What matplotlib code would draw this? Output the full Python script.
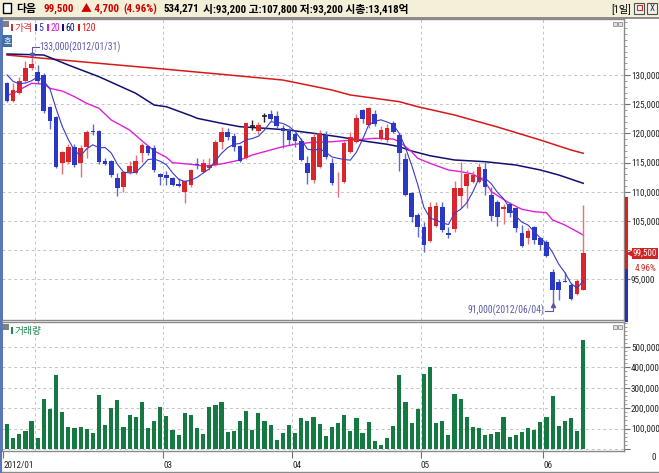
import numpy as np
import pandas as pd
import matplotlib
matplotlib.use('Agg')
import matplotlib.pyplot as plt
import matplotlib.transforms as mtransforms
from matplotlib import font_manager
from matplotlib.patches import Rectangle
from matplotlib.ticker import MultipleLocator, FuncFormatter

# narrow latin face if one is installed, Korean glyphs fall back to Noto CJK
installed = {f.name for f in font_manager.fontManager.ttflist}
narrow = [n for n in ['Roboto Condensed', 'Liberation Sans Narrow', 'Open Sans Condensed',
                      'DejaVu Sans Condensed'] if n in installed]
plt.rcParams['font.family'] = narrow[:1] + ['Noto Sans CJK KR', 'DejaVu Sans']
FS = 6.6 if narrow else 6.0

# daily candles, 2012/01/25 .. 2012/06/12
opens = [128600, 125600, 126900, 129000, 131150, 130550, 130000, 124450, 122850, 114900,
         115050, 117750, 115000, 117750, 120450, 120400, 115300, 115350, 112400, 110900,
         113350, 113300, 116600, 117850, 117550, 113050, 112900, 112300, 111300, 110050,
         111150, 114800, 113450, 114050, 114600, 118600, 120200, 119600, 117900, 115750,
         121300, 120400, 123000, 123250, 123050, 121000, 120450, 119850, 118750, 114900,
         112000, 114200, 119700, 115000, 111850, 111750, 116850, 118600, 124000, 121450,
         123300, 119050, 118850, 121850, 119700, 115600, 109750, 106050, 103900, 101650,
         104150, 107450, 103000, 103600, 109300, 111000, 111750, 111750, 113900, 109450,
         108300, 107050, 107900, 107150, 102900, 102050, 103900, 102050, 101350, 96350,
         94600, 94650, 94050, 92450, 93200]
highs = [128800, 128600, 129700, 132450, 133000, 131700, 130300, 124700, 123000, 117000,
         118200, 118150, 118000, 120600, 121600, 120600, 115800, 115500, 113150, 113600,
         115300, 116300, 118300, 118100, 118000, 113300, 113550, 112600, 112300, 112000,
         113900, 115750, 115550, 115750, 118800, 121050, 120850, 120100, 118100, 121850,
         122300, 121900, 123450, 124000, 123900, 121400, 120850, 120000, 119250, 116200,
         120100, 120600, 120400, 115750, 113350, 118700, 120200, 123300, 124200, 124600,
         124000, 121250, 121550, 122100, 120000, 116600, 110000, 106300, 104900, 108200,
         108300, 108300, 104050, 111900, 115050, 113750, 113600, 114900, 115050, 110900,
         108600, 107900, 108300, 107400, 104300, 103750, 104200, 102300, 101750, 96750,
         95000, 96300, 94300, 95000, 107800]
lows = [125400, 125400, 126700, 128800, 130800, 128500, 123500, 120750, 114000, 113050,
        114800, 114300, 112600, 115750, 119800, 114700, 114600, 112600, 109350, 110050,
        113100, 113000, 115150, 116300, 113450, 111150, 111150, 111050, 110800, 108150,
        110900, 113900, 113200, 113800, 114400, 117350, 118850, 117000, 115100, 115550,
        120600, 119850, 122000, 122100, 121000, 117450, 118000, 117750, 115200, 111300,
        111450, 114000, 115700, 111200, 109150, 111500, 116600, 118300, 121750, 120850,
        121300, 118800, 118600, 120000, 113550, 109200, 104800, 102300, 99750, 101400,
        103900, 103200, 102150, 103200, 107150, 107150, 111500, 111450, 109450, 105050,
        104150, 104500, 105750, 103200, 100600, 101050, 101000, 100050, 98800, 91000,
        91500, 94600, 91500, 92300, 93200]
closes = [125600, 127400, 129000, 131150, 131900, 129000, 123850, 122200, 114300, 116750,
          117600, 114600, 117550, 120300, 120200, 115050, 114800, 112900, 110700, 113350,
          114400, 115300, 118000, 116600, 113750, 112500, 112300, 111150, 111000, 111850,
          113750, 114600, 114900, 114600, 118600, 120300, 119400, 117750, 115350, 121750,
          121300, 121450, 123000, 122400, 121300, 120400, 118850, 118700, 115450, 113150,
          119400, 120000, 115900, 111450, 111900, 118400, 119450, 122700, 122450, 124300,
          121550, 120600, 120850, 120300, 116600, 109450, 105750, 104050, 100900, 107450,
          107550, 103450, 102600, 110700, 110700, 113050, 112900, 114300, 110750, 105900,
          105750, 107400, 106300, 103750, 100800, 103300, 101750, 100900, 99000, 93200,
          93200, 94600, 91650, 94800, 99500]
volumes = [122500, 55000, 73500, 90000, 139000, 55000, 245000, 198000, 364000, 181000,
           108000, 103000, 108000, 96000, 80000, 265000, 118000, 201000, 242000, 108000,
           167000, 157000, 230000, 105000, 139000, 206000, 162000, 95000, 69000, 176000,
           167000, 105000, 73500, 206000, 216000, 230000, 83000, 88000, 137000, 186000,
           95000, 176000, 137000, 118000, 44000, 78000, 118000, 78000, 152000, 137000,
           157000, 122000, 64000, 108000, 127000, 167000, 88000, 152000, 78000, 132000,
           39000, 20000, 54000, 113000, 363000, 230000, 127000, 196000, 368000, 402000,
           127000, 137000, 69000, 270000, 245000, 157000, 108000, 103000, 69000, 73500,
           83000, 157000, 59000, 69000, 83000, 103000, 93000, 132000, 157000, 260000,
           113000, 137000, 152000, 88000, 534271]
pre_closes = [133000, 131000, 130500, 130000]

# moving averages (bar number, value)
ma20_idx = [0, 1, 4, 6, 7, 9, 11, 13, 15, 17, 20, 22, 24, 26, 27, 30, 32, 34, 36, 38, 40,
            43, 45, 47, 50, 53, 58, 60, 63, 64, 66, 67, 69, 72, 74, 76, 78, 79, 82, 84,
            86, 88, 89, 91, 94]
ma20_val = [126500, 126870, 128580, 128460, 127720, 127260, 126290, 125150, 124300, 122300,
            120580, 118750, 117000, 115900, 114990, 114710, 114420, 114590, 114990, 115450,
            116300, 117160, 117730, 118140, 118500, 118580, 119000, 119160, 119040, 118580,
            116870, 115740, 114880, 113740, 113450, 113050, 111730, 110020, 108040, 107010,
            106600, 106430, 105180, 104320, 102610]
ma60_idx = [0, 6, 10, 15, 21, 24, 26, 30, 31, 35, 38, 42, 46, 48, 50, 54, 59, 62, 64, 66,
            69, 73, 78, 83, 87, 90, 94]
ma60_val = [133600, 133420, 131710, 129710, 126870, 124860, 124570, 123030, 122590, 121730,
            121150, 120880, 120580, 120290, 120020, 119440, 118580, 118140, 117730, 116990,
            116180, 115450, 115160, 114590, 113740, 112880, 111460]
ma120_idx = [0, 15, 26, 35, 45, 53, 56, 60, 64, 67, 73, 80, 87, 92, 94]
ma120_val = [133420, 132000, 130980, 130120, 129140, 127430, 126580, 126010, 125430, 124570,
             123150, 121100, 118870, 117160, 116600]

month_grid = [4.5, 25.5, 46.5, 67.5, 87.5]
month_ticks = [-0.6, 25.5, 46.5, 67.5, 87.5]
month_labels = ['2012/01', '03', '04', '05', '06']

UP, DOWN = '#D8262C', '#2B38C6'
UP_W, DOWN_W = '#E8707A', '#5E68D4'
GRID = '#C4C4C4'
W, H = 659, 473

def px_rect(x0, y0, x1, y1):
    return [x0 / W, 1 - y1 / H, (x1 - x0) / W, (y1 - y0) / H]

fig = plt.figure(figsize=(W / 100, H / 100), dpi=100)
fig.patch.set_facecolor('white')
ax = fig.add_axes(px_rect(2, 19, 624, 320))
axv = fig.add_axes(px_rect(2, 322, 624, 451))
ov = fig.add_axes([0, 0, 1, 1], zorder=10)
ov.set_xlim(0, W)
ov.set_ylim(H, 0)
ov.axis('off')
ov.patch.set_visible(False)

o = np.array(opens)
hi = np.array(highs)
lo = np.array(lows)
c = np.array(closes)
x = np.arange(len(c))
ma5 = pd.Series(pre_closes + closes).rolling(5).mean().values[len(pre_closes):]
cur = c[-1]

def comma(v, p=None):
    return f'{int(v):,}'

# --- price panel
for a in (ax, axv):
    a.set_xlim(-0.82, 100.65)
    for g in month_grid:
        a.axvline(g, color=GRID, lw=0.7, ls=(0, (3, 3)), zorder=0)
    for s in a.spines.values():
        s.set_color('#8A8A8A')
        s.set_linewidth(1)
    a.spines['left'].set_color('#5A78B8')
    a.spines['left'].set_linewidth(1.5)

ax.set_ylim(88050, 139590)
ax.yaxis.tick_right()
ax.set_yticks(np.arange(95000, 135000, 5000))
ax.yaxis.set_minor_locator(MultipleLocator(1000))
# the level under the current-price tag stays hidden
ax.yaxis.set_major_formatter(FuncFormatter(lambda v, p: '' if abs(v - cur) < 2500 else comma(v)))
ax.tick_params(axis='y', which='major', length=4, labelsize=FS, pad=1, colors='#707070', labelcolor='#222222')
ax.tick_params(axis='y', which='minor', length=2, colors='#909090')
ax.set_xticks([])
ax.grid(axis='y', color=GRID, lw=0.7, ls=(0, (3, 3)))
ax.set_axisbelow(True)

ax.plot(ma120_idx, ma120_val, color='#D81818', lw=1.1, zorder=2)
ax.plot(ma60_idx, ma60_val, color='#101070', lw=1.1, zorder=2)
ax.plot(ma20_idx, ma20_val, color='#E020D8', lw=1.0, zorder=2)
ax.plot(x, ma5, color='#3A3AC8', lw=0.8, zorder=4)

for i in x:
    if c[i] > o[i]:
        col, wc = UP, UP_W
    elif c[i] < o[i]:
        col, wc = DOWN, DOWN_W
    else:
        col, wc = '#202020', '#202020'
    ax.vlines(i, lo[i], hi[i], color=wc, lw=1, zorder=3)
    if c[i] == o[i]:
        ax.hlines(c[i], i - 0.4, i + 0.4, color=col, lw=1.2, zorder=3)
    else:
        ax.bar(i, abs(c[i] - o[i]), bottom=min(o[i], c[i]), width=0.76, color=col, lw=0, zorder=3)

# high / low annotations
ann = '#5A5AA6'
imax = int(np.argmax(hi))
ax.plot([imax + 1.2, imax, imax], [hi[imax] + 1750, hi[imax] + 1750, hi[imax] + 400], color=ann, lw=0.8, zorder=5)
ax.plot(imax, hi[imax] + 500, marker='v', ms=3, color=ann, zorder=5)
ax.text(imax + 1.3, hi[imax] + 1750, f'{hi[imax]:,}(2012/01/31)', color=ann, fontsize=FS + 0.3, va='center', ha='left')
imin = int(np.argmin(lo))
ax.plot([imin - 1.2, imin, imin], [lo[imin] - 1400, lo[imin] - 1400, lo[imin] - 300], color=ann, lw=0.8, zorder=5)
ax.plot(imin, lo[imin] - 400, marker='^', ms=3, color=ann, zorder=5)
ax.text(imin - 1.4, lo[imin] - 1350, f'{lo[imin]:,}(2012/06/04)', color=ann, fontsize=FS + 0.3, va='center', ha='right')

# current price tag on the right axis
bt = mtransforms.blended_transform_factory(ax.transAxes, ax.transData)
ax.plot([1.004, 1.004], [96600, 108900], color='#E02020', lw=2.2, transform=bt, clip_on=False, zorder=6)
ax.plot([1.004, 1.004], [88050, 96600], color='#2030C8', lw=2.2, transform=bt, clip_on=False, zorder=6)
ax.plot(1.01, cur, marker='<', ms=4, color='#D02020', transform=bt, clip_on=False, zorder=7)
ax.text(1.014, cur, f'{cur:,}', color='white', fontsize=FS, va='center', ha='left', transform=bt,
        zorder=8, clip_on=False, bbox=dict(boxstyle='square,pad=0.12', fc='#D42222', ec='none'))
pct = (c[-1] - c[-2]) / c[-2] * 100
ax.annotate(f'{pct:.2f}%', (1.02, cur), xycoords=bt, xytext=(-1, -11), textcoords='offset points',
            color='#D42222', fontsize=FS, va='center', ha='left', annotation_clip=False, zorder=8)

# --- volume panel
axv.bar(x, volumes, width=0.68, color='#157A42', lw=0, zorder=3)
axv.set_ylim(-9800, 622500)
axv.yaxis.tick_right()
axv.set_yticks(np.arange(0, 600000, 100000))
axv.yaxis.set_minor_locator(MultipleLocator(20000))
axv.yaxis.set_major_formatter(FuncFormatter(lambda v, p: '' if v == 0 else comma(v)))
axv.tick_params(axis='y', which='major', length=4, labelsize=FS, pad=1, colors='#707070', labelcolor='#222222')
axv.tick_params(axis='y', which='minor', length=2, colors='#909090')
axv.grid(axis='y', color=GRID, lw=0.7, ls=(0, (3, 3)))
axv.set_axisbelow(True)
axv.set_xticks(month_ticks)
axv.set_xticklabels(month_labels)
axv.tick_params(axis='x', length=5, labelsize=FS, pad=2, colors='#707070', labelcolor='#222222')
for t in axv.get_xticklabels():
    t.set_ha('left')
btv = mtransforms.blended_transform_factory(axv.transAxes, axv.transData)
axv.annotate('0', (1.0, 0), xycoords=btv, xytext=(23, -6), textcoords='offset points',
             fontsize=FS, color='#222222', ha='right', va='center', annotation_clip=False)

# --- header and decorations
ov.add_patch(Rectangle((0, 0), W, 18, fc='#F4EFD8', ec='none'))
ov.plot([0, W], [18.3, 18.3], color='#7A7A7A', lw=1.2)
ov.add_patch(Rectangle((2.5, 3), 8, 10, fc='white', ec='black', lw=1))
hdr = [(16, '다음', 'black'), (44, '99,500', '#D00000'), (81, '▲ 4,700', '#D00000'),
       (123, '(4.96%)', '#D00000'), (164, '534,271', 'black'),
       (203, '시:93,200 고:107,800 저:93,200 시총:13,418억', 'black')]
for hx, s, col in hdr:
    ov.text(hx, 9, s, color=col, fontsize=7.8, fontweight='bold', va='center', ha='left')
ov.text(611, 9, '[1일]', color='black', fontsize=7.4, va='center', ha='left')
ov.add_patch(Rectangle((634, 3), 10, 11, fc='#F0F0F0', ec='#505050', lw=0.8))
ov.add_patch(Rectangle((636.5, 5.5), 5, 5, fc='none', ec='#C03030', lw=0.8))
ov.add_patch(Rectangle((647, 3), 10, 11, fc='#F0F0F0', ec='#505050', lw=0.8))
ov.text(652, 8.8, 'X', fontsize=6.5, ha='center', va='center', color='#303030')

# legend rows
ov.add_patch(Rectangle((3, 21), 6, 6, fc='#808080', ec='none'))
leg = [(11, '가격', '#D83030'), (35, '5', '#3030C0'), (47, '20', '#D020D0'),
       (62, '60', '#101070'), (78, '120', '#D81818')]
for lx, s, col in leg:
    ov.add_patch(Rectangle((lx, 24), 1.6, 7, fc=col, ec='none'))
    ov.text(lx + 3.5, 28, s, color=col, fontsize=FS + 0.4, va='center', ha='left')
ov.add_patch(Rectangle((2, 35), 10, 12, fc='#3F6EA8', ec='none'))
ov.text(7, 41, '호', color='white', fontsize=6, ha='center', va='center')
ov.add_patch(Rectangle((3, 324), 6, 6, fc='#808080', ec='none'))
ov.add_patch(Rectangle((11, 327), 1.6, 7, fc='#1E8A4A', ec='none'))
ov.text(14.5, 331, '거래량', color='#1E8A4A', fontsize=FS + 0.4, va='center', ha='left')
for by in (22, 325):
    ov.add_patch(Rectangle((613, by), 4, 4, fc='#E0E0E0', ec='#909090', lw=0.6))
    ov.add_patch(Rectangle((618, by), 4, 4, fc='#E0E0E0', ec='#909090', lw=0.6))

ov.plot([0, W], [472, 472], color='#8A8A8A', lw=1)
ov.plot([0.8, 0.8], [19, 473], color='#5A78B8', lw=1.5)

fig.savefig('out.png', dpi=100, facecolor='white')
